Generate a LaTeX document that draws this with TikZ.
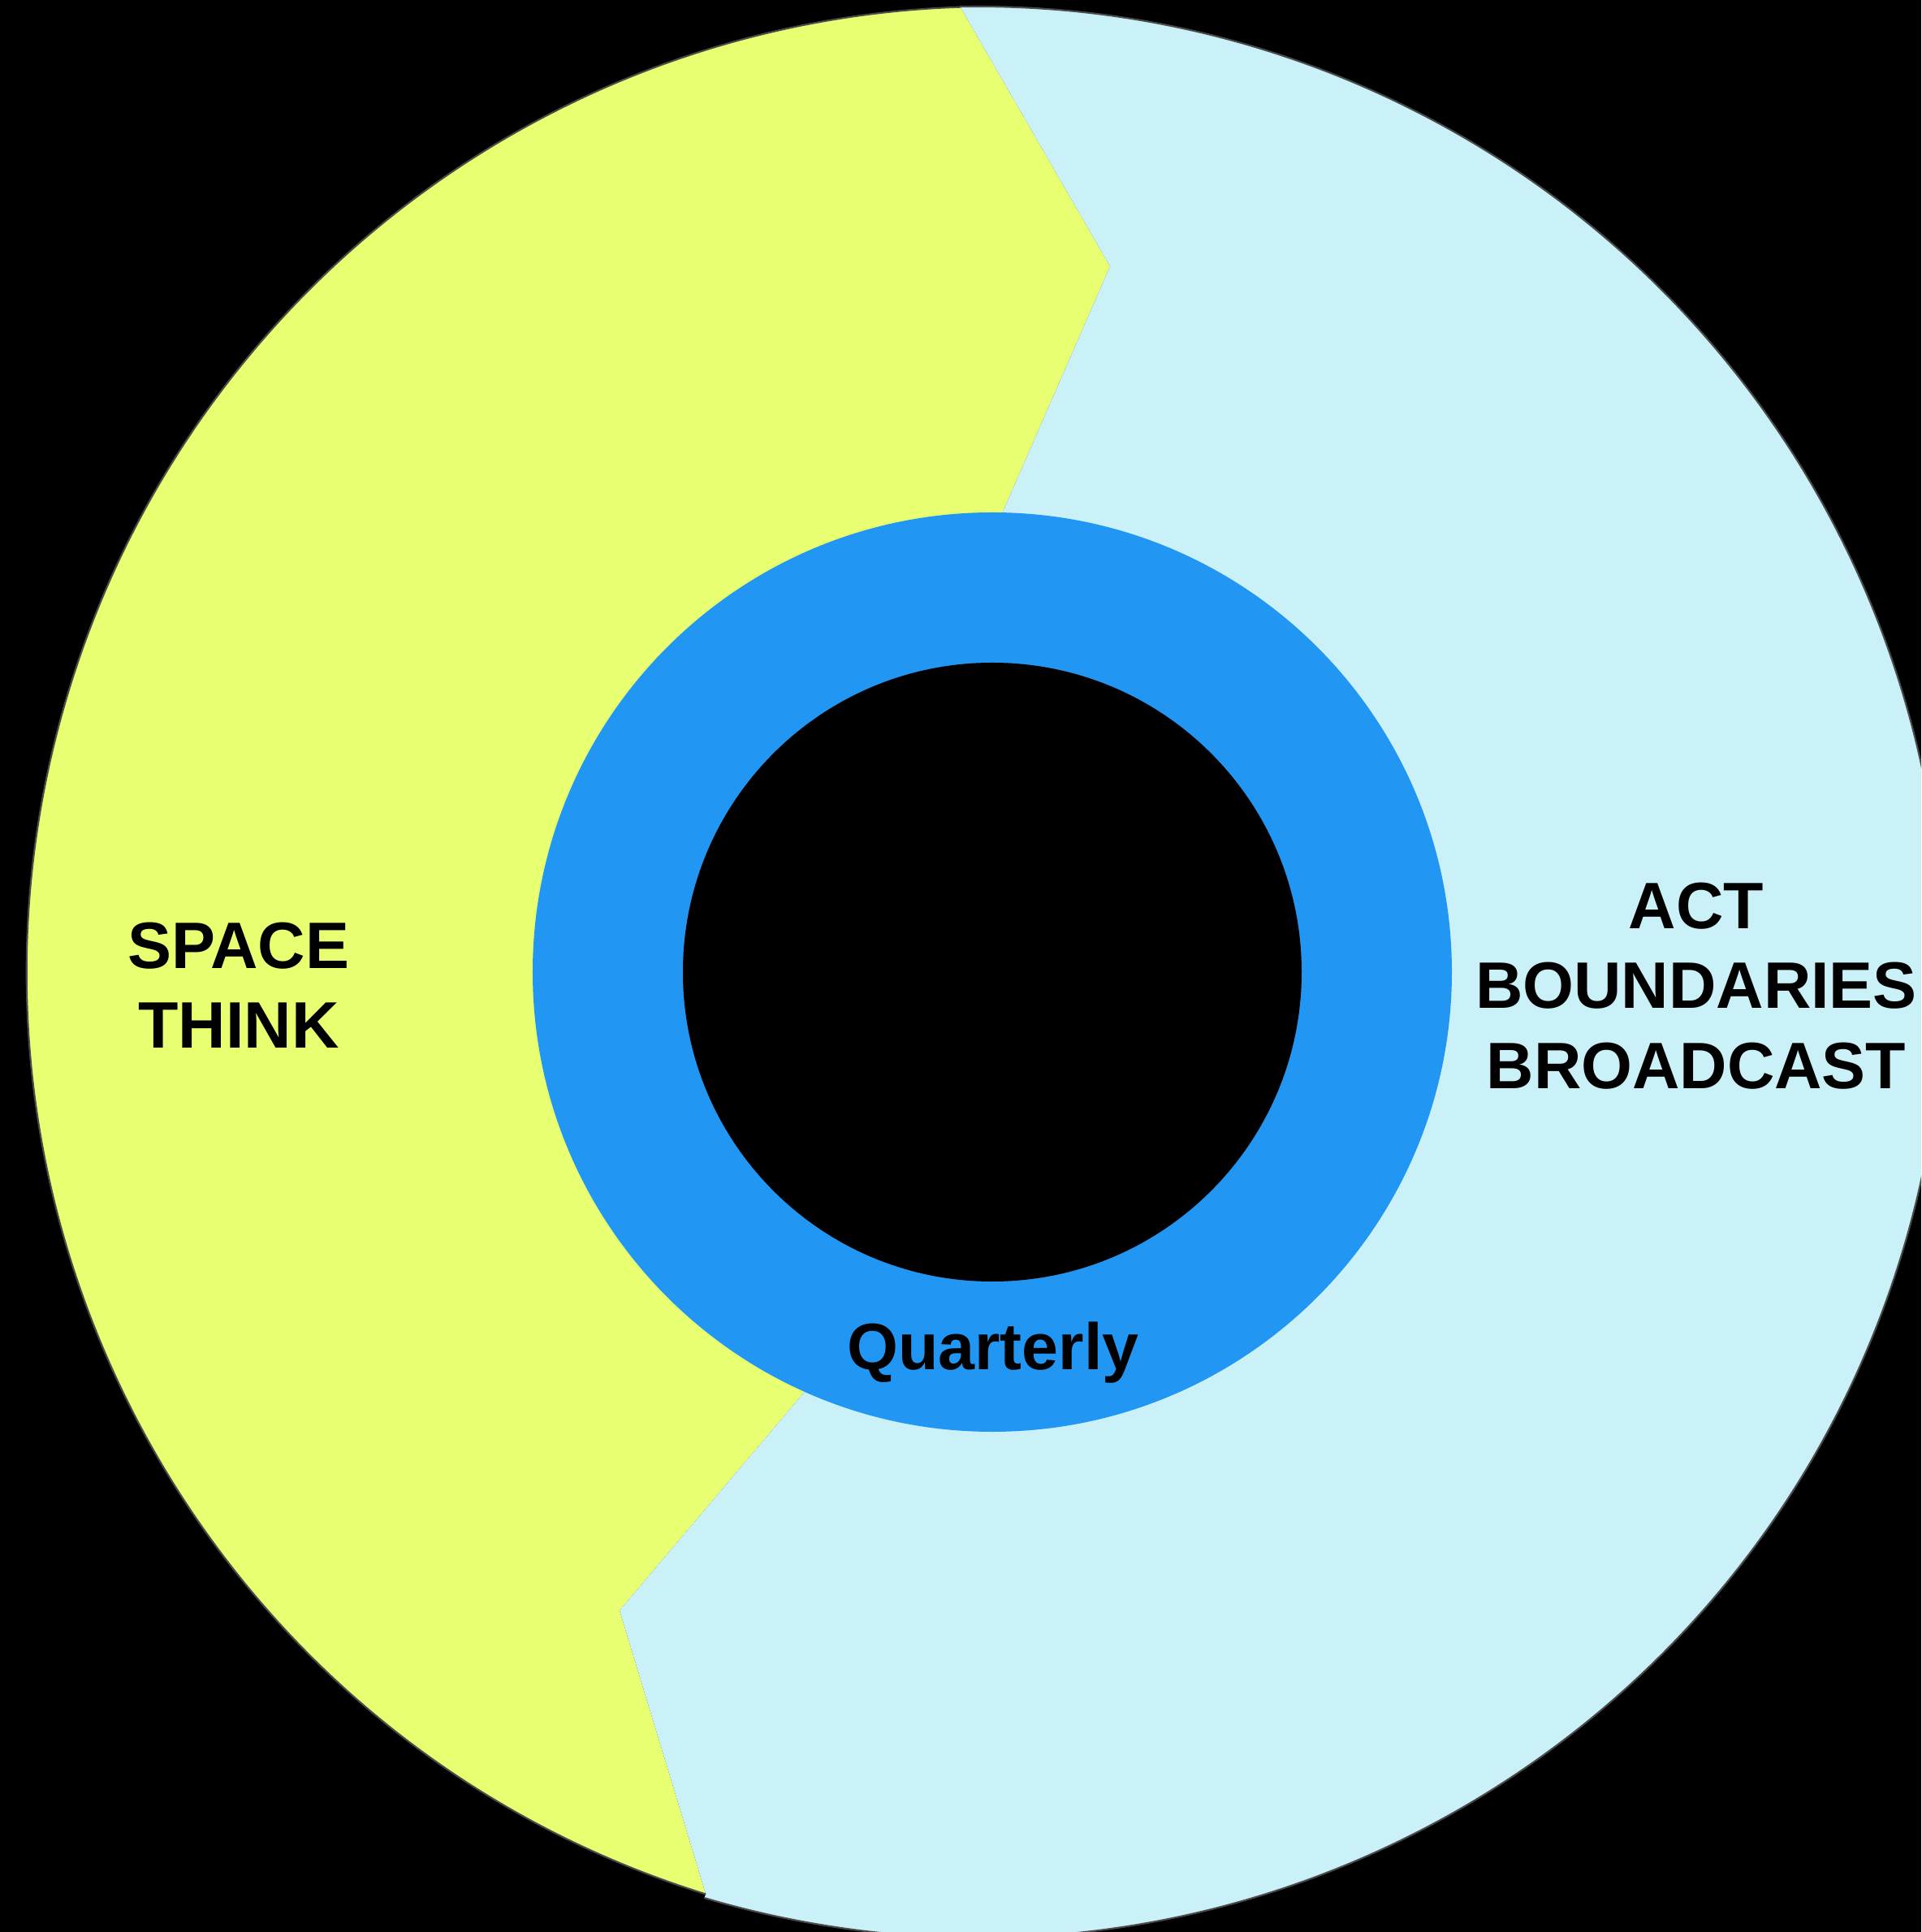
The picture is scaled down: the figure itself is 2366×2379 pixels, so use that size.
\documentclass[tikz,border=0pt]{standalone}
\usepackage{fontspec}
\setmainfont{Liberation Sans}
\usetikzlibrary{calc}
\definecolor{spaceyellow}{HTML}{E9FF72}
\definecolor{actblue}{HTML}{CAF0F8}
\definecolor{ringblue}{HTML}{2196F3}
\definecolor{rimgray}{HTML}{4A4A4A}
\tikzset{
  rim/.style = {draw = rimgray, line width = 0.6pt},
  words/.style = {text = black, align = center, inner sep = 0pt,
    font = \fontsize{23}{28}\selectfont\bfseries},
  hole/.style = {fill = black}
}

\begin{document}
\begin{tikzpicture}[x = 0.01cm, y = 0.01cm]

\fill [black] (-1222,1197) rectangle (1144,-1182);
\clip (-1222,1197) rectangle (1144,-1182);

% where the two halves meet
\coordinate (hub) at (0,0);
\coordinate (top) at (91.9:1189);
\coordinate (kneeA) at (145,869);
\coordinate (inA) at (6,551);
\coordinate (inB) at (-217,-500);
\coordinate (kneeB) at (-459,-786);
\coordinate (bottom) at (252.74:1189);
\coordinate (bottomB) at ($(-17,0)+(-106.5:1189)$);

\fill [spaceyellow] (top) -- (kneeA) -- (inA) -- (inB) -- (kneeB) -- (bottom)
  arc [start angle = 252.74, end angle = 91.9, radius = 1189] -- cycle;
\fill [actblue] (top) -- (kneeA) -- (inA) -- (inB) -- (kneeB) -- (bottom) -- (bottomB)
  arc [start angle = -106.5, end angle = 91.1, radius = 1189] -- cycle;

\draw [rim] (bottom) arc [start angle = 252.74, end angle = 91.9, radius = 1189];
\draw [rim] (bottomB) arc [start angle = -106.5, end angle = 91.1, radius = 1189];

\fill [ringblue] (hub) circle [radius = 566];
\fill [hole] (hub) circle [radius = 381];

\node [words] (space) at (-928,-16) {SPACE\\THINK};
\node [words] (act) at (867,-17) {ACT\\BOUNDARIES\\BROADCAST};
\node [words, anchor = base] (quarterly) at (1,-489) {Quarterly};

\end{tikzpicture}
\end{document}
